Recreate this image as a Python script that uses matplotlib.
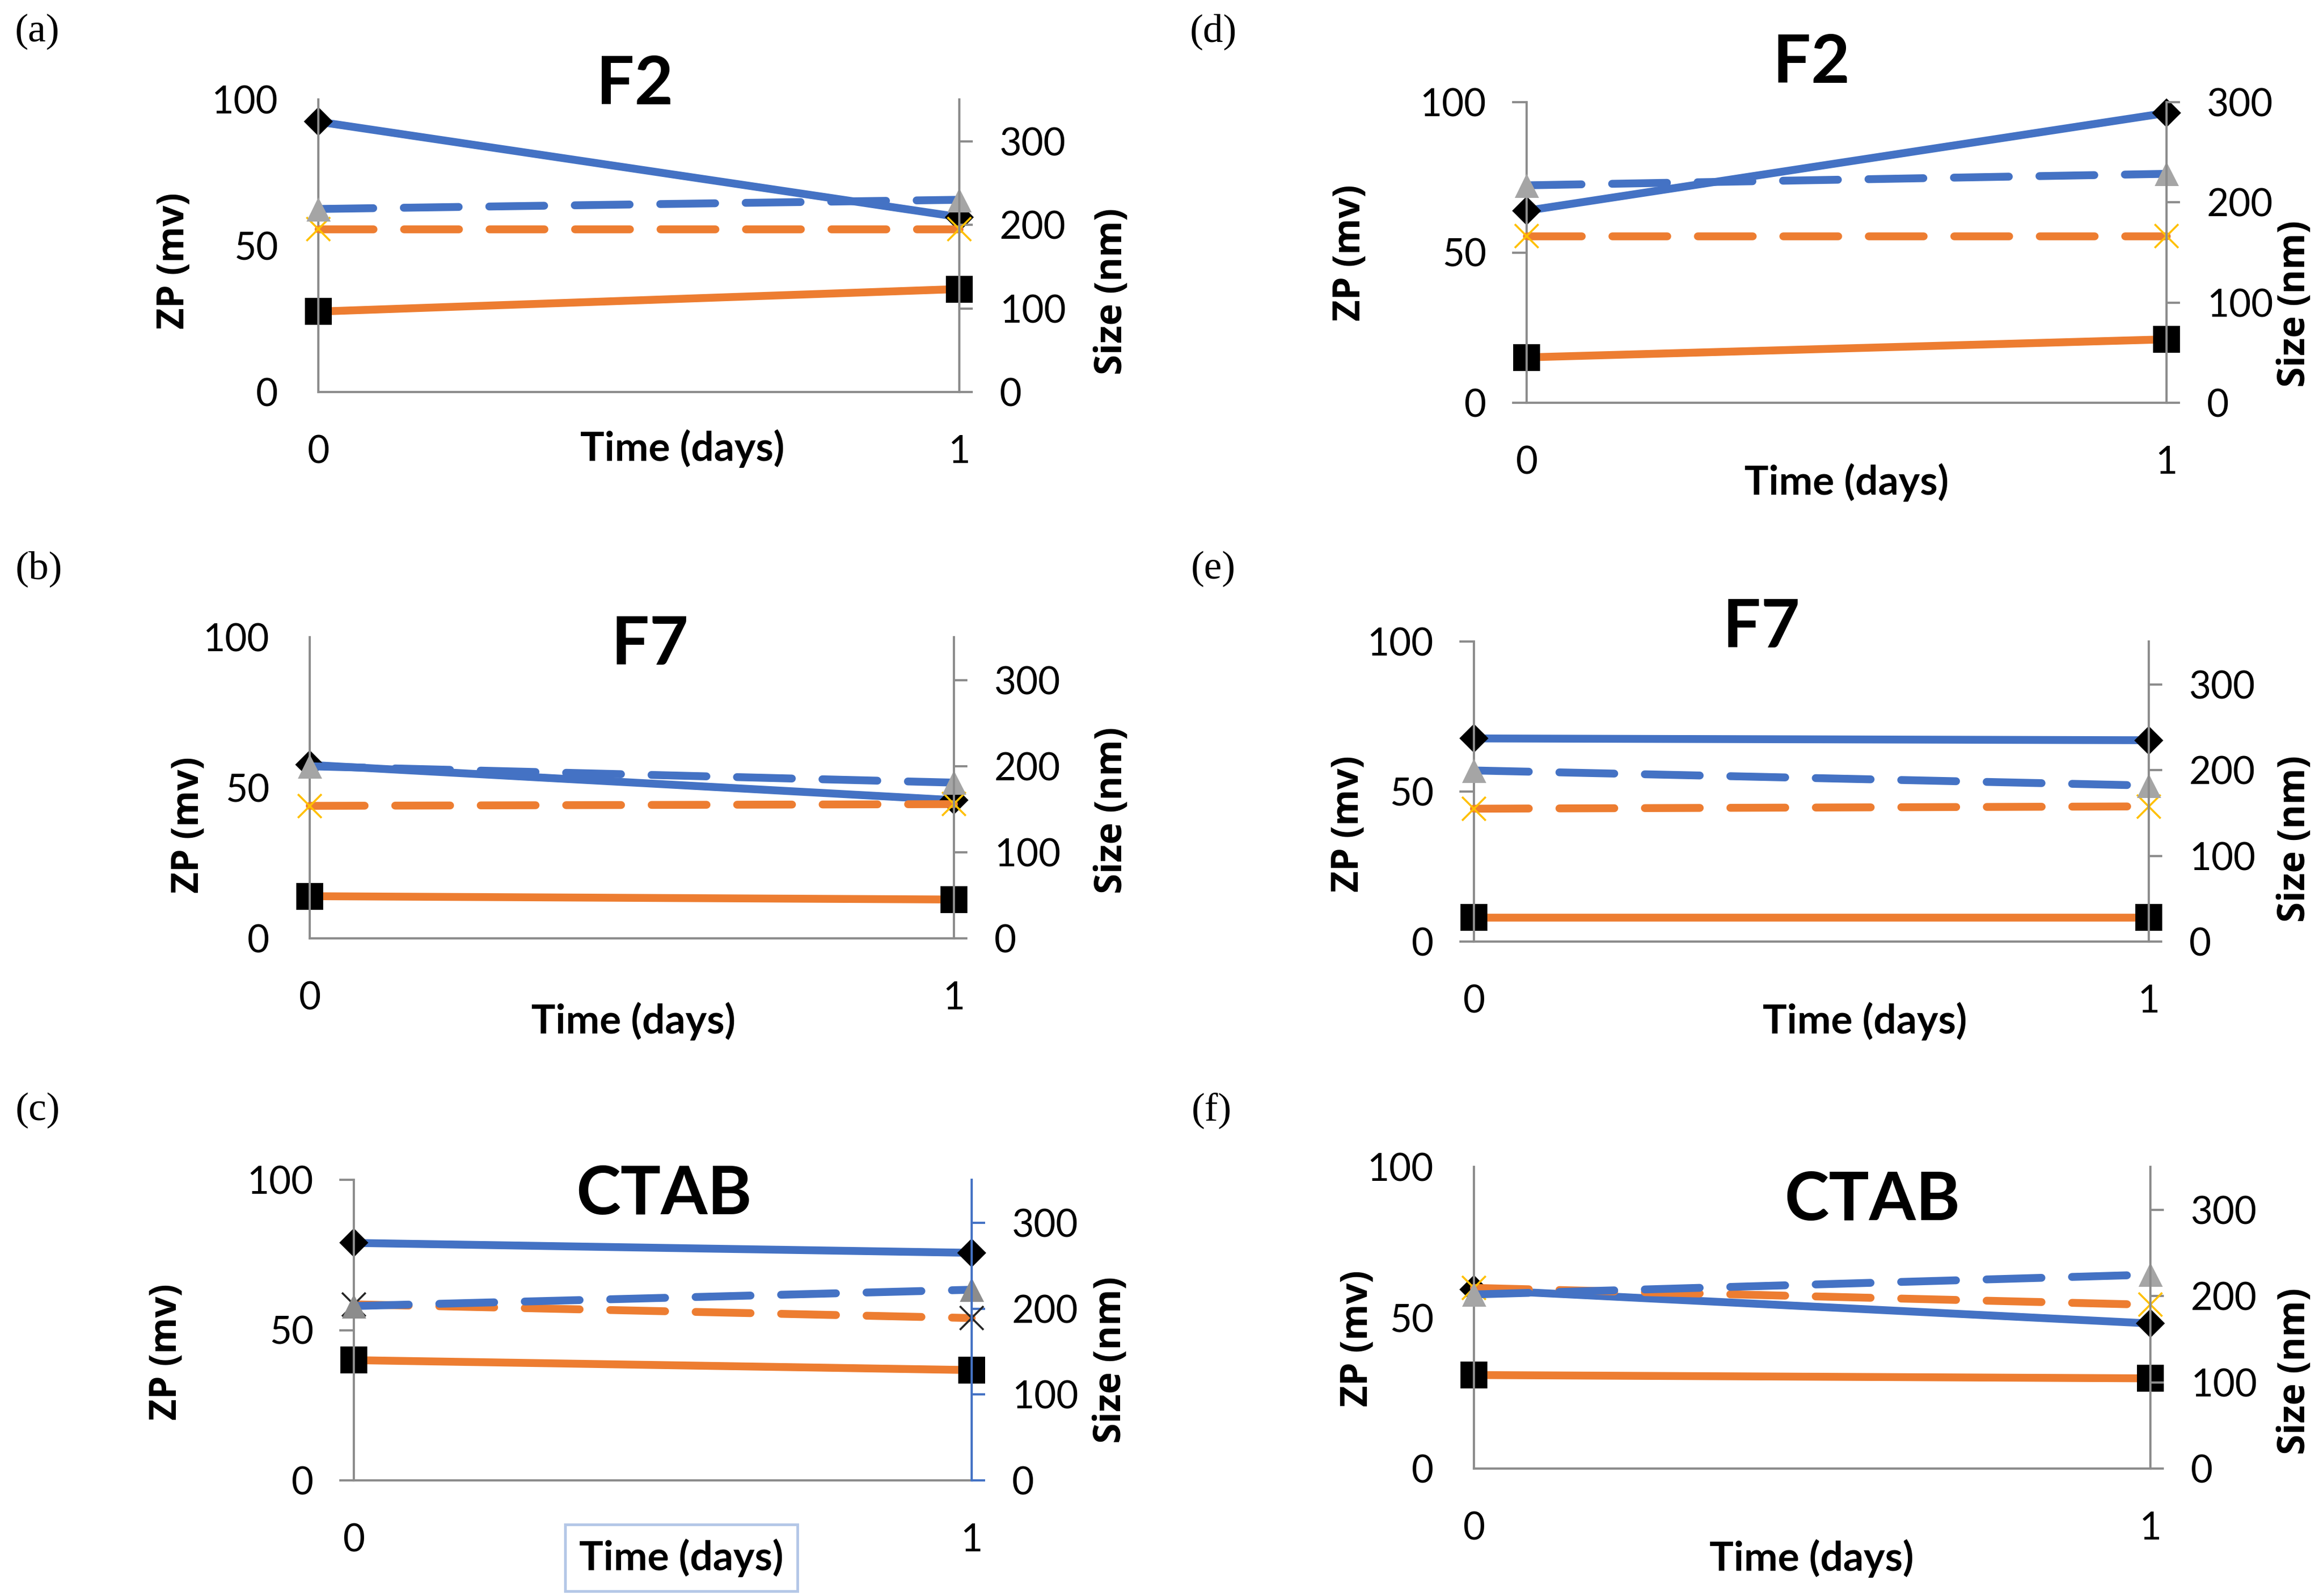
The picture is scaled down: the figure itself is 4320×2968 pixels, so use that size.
import matplotlib.pyplot as plt

plt.rcParams['font.family'] = ['Lato', 'DejaVu Sans']

W, H = 4320, 2968
DPI = 300

panels = ["(a)", "(b)", "(c)", "(d)", "(e)", "(f)"]
titles = ["F2", "F7", "CTAB", "F2", "F7", "CTAB"]
days = [0, 1]
time_ticks = ["0", "1"]
zp_ticks = [0, 50, 100]
size_ticks = [0, 100, 200, 300]
size_max = [350, 350, 350, 300, 350, 350]

# solid lines -> left axis, ZP (mv)
zp_blue = [[92.4, 59.8], [57.6, 45.9], [79.0, 75.7], [63.9, 96.4], [67.7, 67.1], [59.3, 48.1]]
zp_orange = [[27.5, 35.2], [14.0, 12.9], [40.0, 36.7], [15.1, 21.1], [8.0, 8.0], [31.0, 29.9]]
# dashed lines -> right axis, Size (nm)
size_blue = [[219, 230], [200, 181], [203, 222], [217, 228.5], [199.6, 182], [202, 225]]
size_orange = [[195, 195], [154, 156], [205, 189], [166.6, 166.6], [155, 157.7], [209.6, 190]]

# layout in pixels of the final image
boxes = [(592, 185, 1784, 729), (576, 1185, 1774, 1745), (658, 2194, 1807, 2753),
         (2839, 190, 4029, 749), (2741, 1193, 3996, 1751), (2741, 2170, 3999, 2731)]
tag_xy = [(69, 59), (72, 1058), (70, 2065), (2256, 59), (2256, 1058), (2253, 2065)]
title_xy = [(1181, 158), (1209, 1200), (1235, 2222), (3369, 118), (3276, 1168), (3482, 2233)]
zp_xy = [(324, 485), (351, 1534), (310, 2514), (2511, 470), (2508, 1532), (2525, 2489)]
size_xy = [(2068, 542), (2068, 1507), (2066, 2529), (4268, 565), (4268, 1560), (4268, 2550)]
time_xy = [(1269, 834), (1178, 1899), (1267, 2897), (3434, 897), (3468, 1899), (3369, 2898)]
left_ticks_on = [False, False, True, True, True, False]

BLUE = "#4472C4"
ORANGE = "#ED7D31"
AXGRAY = "#8C8C8C"
TRI = ["#A5A5A5", "#A5A5A5", "#8C8C8C", "#A5A5A5", "#A5A5A5", "#A5A5A5"]
XCOL = ["#FFC000", "#FFC000", "#262626", "#FFC000", "#FFC000", "#FFC000"]
LW = 3.5
DASH = (0, (7.0, 3.9))


def fx(px):
    return px / W


def fy(py):
    return 1 - py / H


fig = plt.figure(figsize=(W / DPI, H / DPI), dpi=DPI)

for i in range(6):
    l, t, r, b = boxes[i]
    ax = fig.add_axes([fx(l), fy(b), (r - l) / W, (b - t) / H])
    ax2 = ax.twinx()

    ax.plot(days, zp_orange[i], color=ORANGE, lw=LW, marker='s', ms=12.2,
            mfc='black', mew=0, clip_on=False)
    ax.plot(days, zp_blue[i], color=BLUE, lw=LW, marker='D', ms=9.2,
            mfc='black', mew=0, clip_on=False)
    ax2.plot(days, size_orange[i], color=ORANGE, lw=LW, ls=DASH, dash_capstyle='round',
             marker='x', ms=10.6, mec=XCOL[i], mew=0.9, clip_on=False)
    ax2.plot(days, size_blue[i], color=BLUE, lw=LW, ls=DASH, dash_capstyle='round',
             marker='^', ms=10.8, mfc=TRI[i], mew=0, clip_on=False)

    ax.set_xlim(0, 1)
    ax.set_ylim(0, 100)
    ax2.set_ylim(0, size_max[i])
    ax.set_xticks(days)
    ax.set_xticklabels(time_ticks)
    ax.set_yticks(zp_ticks)
    ax2.set_yticks(size_ticks)

    rcol = BLUE if i == 2 else AXGRAY
    for s in ["top", "right"]:
        ax.spines[s].set_visible(False)
    for s in ["top", "left", "bottom"]:
        ax2.spines[s].set_visible(False)
    for s in ["left", "bottom"]:
        ax.spines[s].set_color(AXGRAY)
        ax.spines[s].set_linewidth(1.0)
    ax2.spines["right"].set_color(rcol)
    ax2.spines["right"].set_linewidth(1.0)

    ax.tick_params(axis='x', length=0, pad=19, labelsize=17)
    if left_ticks_on[i]:
        ax.tick_params(axis='y', length=6.5, width=1.0, color=AXGRAY, pad=11.5, labelsize=17)
    else:
        ax.tick_params(axis='y', length=0, pad=18, labelsize=17)
    ax2.tick_params(axis='y', length=6, width=1.0, color=rcol, pad=12, labelsize=17)

    ax.set_xlabel("Time (days)", fontsize=18, fontweight='bold')
    ax.xaxis.set_label_coords(fx(time_xy[i][0]), fy(time_xy[i][1]), transform=fig.transFigure)
    ax.xaxis.label.set_va('center')
    if i == 2:
        ax.xaxis.label.set_bbox(dict(boxstyle='square,pad=0.35', fc='white',
                                     ec='#B4C7E7', lw=1.2))

    ax.set_ylabel("ZP (mv)", family='Open Sans', fontsize=16.5, fontweight='bold')
    ax.yaxis.set_label_coords(fx(zp_xy[i][0]), fy(zp_xy[i][1]), transform=fig.transFigure)
    ax.yaxis.label.set_va('center')
    ax2.set_ylabel("Size (nm)", family='Open Sans', fontsize=16.5, fontweight='bold',
                   rotation=90)
    ax2.yaxis.set_label_coords(fx(size_xy[i][0]), fy(size_xy[i][1]), transform=fig.transFigure)
    ax2.yaxis.label.set_va('center')

    fig.text(fx(title_xy[i][0]), fy(title_xy[i][1]), titles[i], fontsize=30,
             fontweight='bold', ha='center', va='center')
    fig.text(fx(tag_xy[i][0]), fy(tag_xy[i][1]), panels[i], family='Liberation Serif',
             fontsize=18, ha='center', va='center')

fig.savefig("out.png", dpi=DPI)
